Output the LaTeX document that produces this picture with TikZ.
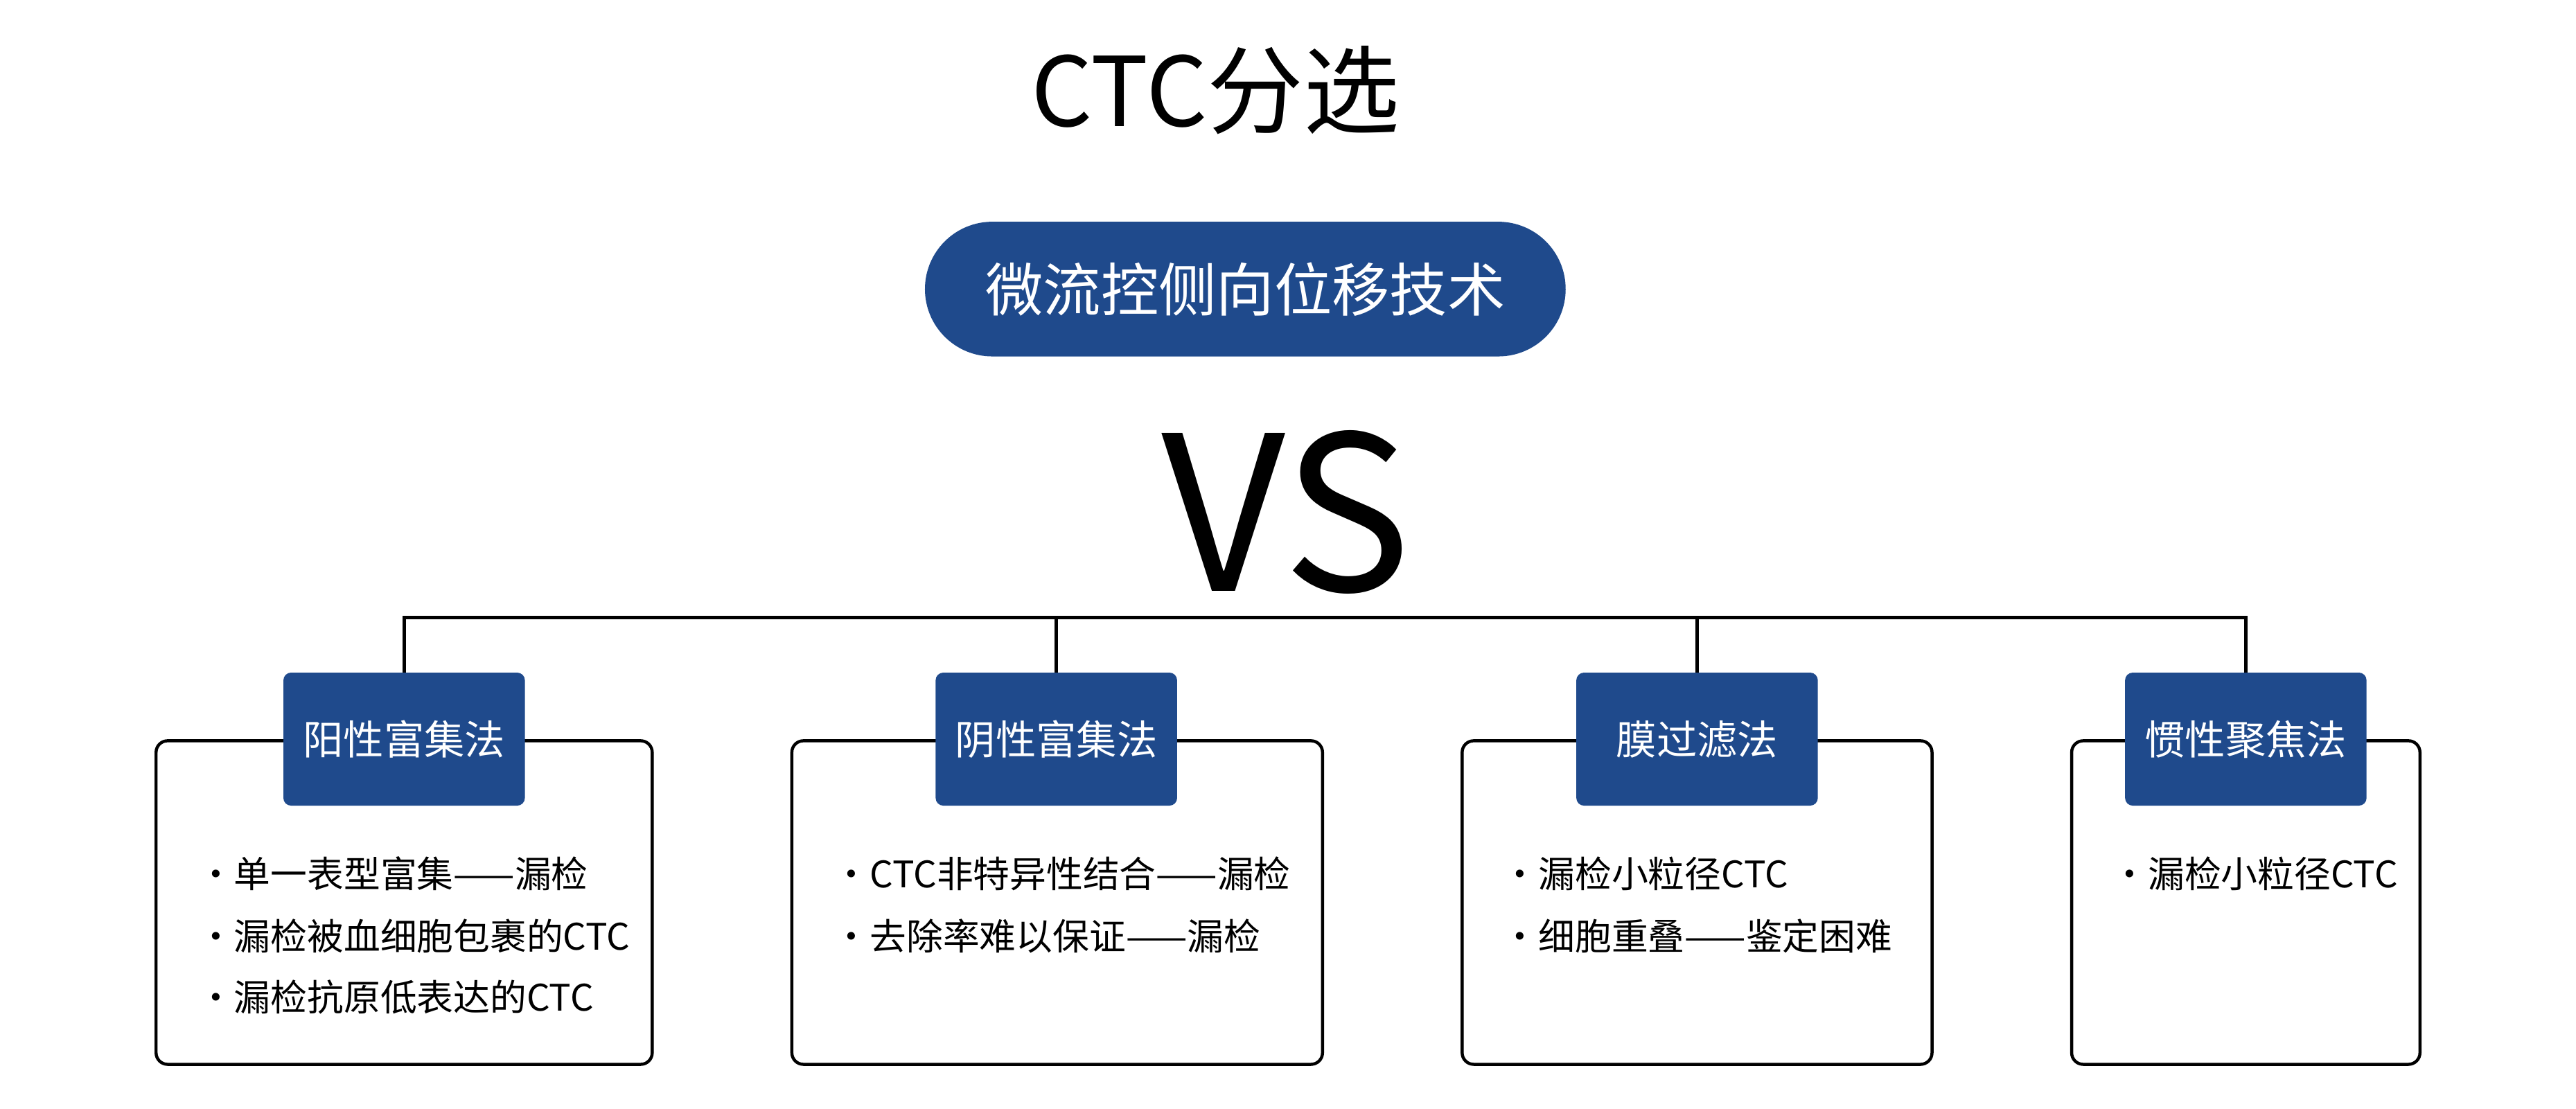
\documentclass[tikz,border=0pt]{standalone}
\usepackage{fontspec}
\setmainfont{Noto Sans CJK SC}
\usetikzlibrary{positioning}
\definecolor{ctcblue}{HTML}{1F4A8C}
\tikzset{
  headbox/.style={fill=ctcblue, text=white, rounded corners=4pt, minimum width=147*0.03cm, minimum height=81*0.03cm, font=\fontsize{21}{25}\selectfont},
  listbox/.style={draw, line width=1.6pt, rounded corners=6pt, anchor=north west},
  item/.style={anchor=west, font=\fontsize{19}{23}\selectfont, inner sep=0pt}
}
\begin{document}
\begin{tikzpicture}[x=0.03cm, y=-0.03cm]
\useasboundingbox (0,0) rectangle (1568,675);
% title
\node (title) at (740,55) {\fontsize{50}{60}\selectfont CTC分选};
\node[fill=ctcblue, text=white, rounded corners=41*0.03cm, minimum width=390*0.03cm, minimum height=82*0.03cm, font=\fontsize{30}{36}\selectfont] (tech) at (758,176) {微流控侧向位移技术};
\node (vs) at (783,312) {\fontsize{112}{120}\selectfont VS};

% tree
\coordinate (bar) at (643,376);
\draw[line width=1.6pt] (246,410) -- (246,376) -- (1367,376) -- (1367,410);
\draw[line width=1.6pt] (643,376) -- (643,410);
\draw[line width=1.6pt] (1033,376) -- (1033,410);

% content boxes
\draw[listbox] (95,451) rectangle (397,648);
\draw[listbox] (482,451) rectangle (805,648);
\draw[listbox] (890,451) rectangle (1176,648);
\draw[listbox] (1261,451) rectangle (1473,648);

% headers
\node[headbox] (pos) at (246,450) {阳性富集法};
\node[headbox] (neg) at (643,450) {阴性富集法};
\node[headbox] (mem) at (1033,450) {膜过滤法};
\node[headbox] (ine) at (1367,450) {惯性聚焦法};

% items
\node[item] at (120,532) {·单一表型富集——漏检};
\node[item] at (120,570) {·漏检被血细胞包裹的CTC};
\node[item] at (120,607) {·漏检抗原低表达的CTC};
\node[item] at (507,532) {·CTC非特异性结合——漏检};
\node[item] at (507,570) {·去除率难以保证——漏检};
\node[item] at (914,532) {·漏检小粒径CTC};
\node[item] at (914,570) {·细胞重叠——鉴定困难};
\node[item] at (1285,532) {·漏检小粒径CTC};
\end{tikzpicture}
\end{document}
